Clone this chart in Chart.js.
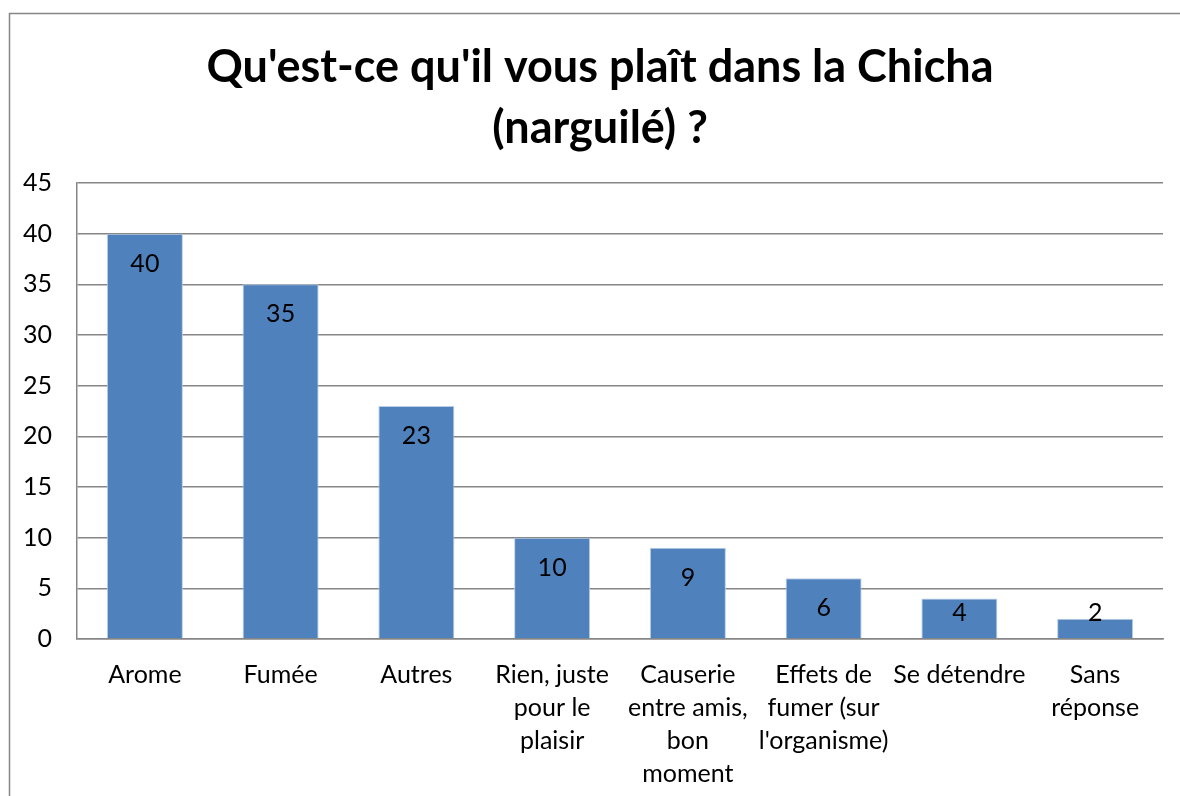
<!DOCTYPE html>
<html>
<head>
<meta charset="utf-8">
<script src="https://cdn.jsdelivr.net/npm/chart.js@4"></script>
<style>
  html, body { margin: 0; padding: 0; background: #fff; overflow: hidden; }
  #wrap { width: 1180px; height: 796px; position: relative; }
</style>
</head>
<body>
<div id="wrap"><canvas id="myChart" width="1180" height="796"></canvas></div>
<script>
"use strict";

// chart data
var chartTitle = ["Qu'est-ce qu'il vous plaît dans la Chicha", "(narguilé) ?"];
var categories = [
  "Arome",
  "Fumée",
  "Autres",
  ["Rien, juste", "pour le", "plaisir"],
  ["Causerie", "entre amis,", "bon", "moment"],
  ["Effets de", "fumer (sur", "l'organisme)"],
  "Se détendre",
  ["Sans", "réponse"]
];
var answers = [40, 35, 23, 10, 9, 6, 4, 2];
var yTicks = [0, 5, 10, 15, 20, 25, 30, 35, 40, 45];

var gridGray = "#868686";
var fontFam = "Lato, 'Open Sans', sans-serif";

// outer frame + title (the frame runs off the right / bottom edges,
// so the title is centred on the whole frame, not the canvas)
var framePlugin = {
  id: "frame",
  beforeDraw: function (chart) {
    var ctx = chart.ctx;
    ctx.save();
    ctx.strokeStyle = gridGray;
    ctx.lineWidth = 1.5;
    ctx.beginPath();
    ctx.moveTo(9.5, 800);
    ctx.lineTo(9.5, 13.5);
    ctx.lineTo(1185, 13.5);
    ctx.stroke();

    ctx.fillStyle = "#000";
    ctx.font = "bold 45px " + fontFam;
    ctx.textAlign = "center";
    ctx.textBaseline = "middle";
    ctx.fillText(chartTitle[0], 600, 67);
    ctx.fillText(chartTitle[1], 600, 128);
    ctx.restore();
  }
};

// value labels at the inside end of each bar
var valueLabels = {
  id: "valueLabels",
  afterDatasetsDraw: function (chart) {
    var ctx = chart.ctx;
    var meta = chart.getDatasetMeta(0);
    var base = chart.scales.y.getPixelForValue(0);
    ctx.save();
    ctx.font = "25px " + fontFam;
    ctx.fillStyle = "#000";
    ctx.textAlign = "center";
    ctx.textBaseline = "middle";
    meta.data.forEach(function (bar, i) {
      var y = Math.min(bar.y + 30, base - 26);
      ctx.fillText(String(answers[i]), bar.x, y);
    });
    ctx.restore();
  }
};

var ctx = document.getElementById("myChart").getContext("2d");
var chart = new Chart(ctx, {
  type: "bar",
  data: {
    labels: categories,
    datasets: [
      {
        data: answers,
        backgroundColor: "#4F81BD",
        borderColor: "#B9CDE5",
        borderWidth: 1,
        barPercentage: 0.56,
        categoryPercentage: 1
      }
    ]
  },
  options: {
    responsive: false,
    animation: false,
    layout: { padding: { top: 183, left: 10, right: 17, bottom: 0 } },
    plugins: {
      legend: { display: false },
      tooltip: { enabled: false },
      title: { display: false }
    },
    scales: {
      x: {
        grid: { display: false, drawTicks: false },
        border: { display: true, color: gridGray, width: 1.5 },
        ticks: {
          color: "#000",
          font: { family: fontFam, size: 25, lineHeight: 1.32 },
          padding: 19,
          maxRotation: 0,
          autoSkip: false
        },
        afterFit: function (scale) { scale.height = 157; }
      },
      y: {
        min: 0,
        max: 45,
        afterBuildTicks: function (scale) {
          scale.ticks = yTicks.map(function (v) { return { value: v }; });
        },
        grid: { color: gridGray, lineWidth: 1.5, drawTicks: false },
        border: { display: true, color: gridGray, width: 1.5 },
        ticks: {
          color: "#000",
          font: { family: fontFam, size: 25 },
          padding: 25
        },
        afterFit: function (scale) { scale.width = 67; }
      }
    }
  },
  plugins: [framePlugin, valueLabels]
});
</script>
</body>
</html>
